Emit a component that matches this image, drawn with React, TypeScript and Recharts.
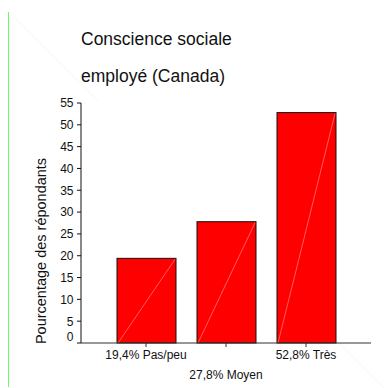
import React from "react";
import { BarChart, Bar, XAxis, YAxis, CartesianGrid } from "recharts";

const categories = ["Pas/peu", "Moyen", "Très"];
const percentages = [19.4, 27.8, 52.8];
const yTicks = [0, 5, 10, 15, 20, 25, 30, 35, 40, 45, 50, 55];

const titleLines = ["Conscience sociale", "employé (Canada)"];
const yAxisTitle = "Pourcentage des répondants";

const FONT = '"Liberation Sans", Arial, sans-serif';

const formatPct = (v: number) => `${v.toFixed(1).replace(".", ",")}%`;

const data = categories.map((cat, i) => ({
  category: cat,
  label: `${formatPct(percentages[i])} ${cat}`,
  value: percentages[i],
}));

// red bar with thin outline and the pale diagonal stroke
const HatchedBar = (props: any) => {
  const { x, y, width, height } = props;
  if (!height || height <= 0) return null;
  return (
    <g>
      <rect x={x} y={y} width={width} height={height} fill="#ff0000" stroke="#111" strokeWidth={1} />
      <line
        x1={x + 1}
        y1={y + height}
        x2={x + width - 1}
        y2={y + 1}
        stroke="#ff9c9c"
        strokeWidth={0.6}
      />
    </g>
  );
};

// labels alternate between two rows
const CategoryTick = (props: any) => {
  const { x, y, payload, index } = props;
  const row = index % 2 === 1 ? 30 : 10;
  return (
    <text x={x} y={y} dy={row} textAnchor="middle" fontFamily={FONT} fontSize={12} fill="#111">
      {data[payload.index ?? index]?.label ?? payload.value}
    </text>
  );
};

const ValueTick = (props: any) => {
  const { x, y, payload } = props;
  const shift = payload.value === 0 ? -6 : 0;
  return (
    <text
      x={x}
      y={y + shift}
      dx={-1.5}
      dy="0.36em"
      textAnchor="end"
      fontFamily={FONT}
      fontSize={12}
      fill="#111"
    >
      {payload.value}
    </text>
  );
};

const YTitle = (props: any) => {
  const { viewBox } = props;
  if (!viewBox) return null;
  const cx = viewBox.x + 46;
  const cy = viewBox.y + viewBox.height / 2 + 28;
  return (
    <text
      transform={`translate(${cx}, ${cy}) rotate(-90)`}
      textAnchor="middle"
      fontFamily={FONT}
      fontSize={14.5}
      fill="#111"
    >
      {yAxisTitle}
    </text>
  );
};

export default function App() {
  return (
    <div style={{ position: "absolute", left: 0, top: 0, width: 385, height: 388, background: "#fff" }}>
      <svg width={385} height={388} style={{ position: "absolute", left: 0, top: 0 }}>
        <line x1={8.5} y1={12} x2={8.5} y2={387} stroke="#6f6" strokeWidth={1} />
        <line x1={9} y1={12} x2={385} y2={389} stroke="#f0faf0" strokeWidth={1} />
        {titleLines.map((t, i) => (
          <text key={t} x={81} y={45 + i * 37} fontFamily={FONT} fontSize={17.5} fill="#111">
            {t}
          </text>
        ))}
      </svg>
      <div style={{ position: "absolute", left: 0, top: 0 }}>
        <BarChart
          width={385}
          height={388}
          data={data}
          margin={{ top: 103, right: 14, bottom: 0, left: 0 }}
        >
          <CartesianGrid horizontal={false} vertical={false} fill="#fff" />
          <XAxis
            dataKey="category"
            height={45}
            padding={{ left: 25, right: 25 }}
            tickSize={4}
            tick={<CategoryTick />}
            interval={0}
            axisLine={{ stroke: "#333" }}
            tickLine={{ stroke: "#333" }}
          />
          <XAxis xAxisId="frame" orientation="top" height={0} tick={false} tickLine={false} axisLine={{ stroke: "#777", strokeWidth: 1.3 }} />
          <YAxis
            width={81}
            domain={[0, 55]}
            ticks={yTicks}
            interval={0}
            tickSize={4}
            tick={<ValueTick />}
            axisLine={{ stroke: "#111" }}
            tickLine={{ stroke: "#111" }}
            label={<YTitle />}
          />
          <YAxis yAxisId="frame" orientation="right" width={0} tick={false} tickLine={false} axisLine={{ stroke: "#777", strokeWidth: 1.3 }} />
          <Bar dataKey="value" barSize={59} shape={<HatchedBar />} isAnimationActive={false} />
        </BarChart>
      </div>
    </div>
  );
}
